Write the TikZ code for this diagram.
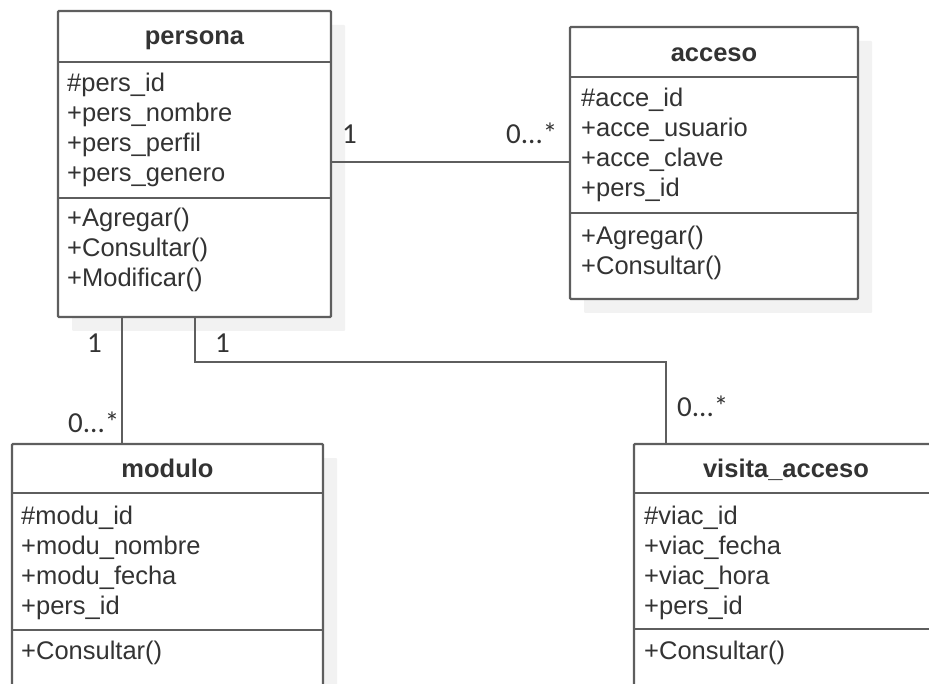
\documentclass[tikz,border=0pt]{standalone}
\usepackage{fontspec}
\setmainfont{Liberation Sans}
\newfontfamily\multfont{Carlito}
\usetikzlibrary{shadows}
\definecolor{txt}{HTML}{333333}
\definecolor{edge}{HTML}{5E5E5E}
\definecolor{shade}{HTML}{F2F2F2}
\tikzset{
  classbox/.style={draw=edge, line width=2.4pt, rounded corners=1pt, fill=white,
    inner sep=0pt, outer sep=0pt, anchor=north west,
    drop shadow={shadow xshift=14pt, shadow yshift=-14pt, fill=shade, opacity=1}},
  divider/.style={draw=edge, line width=2.4pt},
  assoc/.style={draw=edge, line width=2.4pt},
  head/.style={anchor=base, inner sep=0pt, text=txt, font=\fontsize{25.5}{30}\selectfont\bfseries},
  attr/.style={anchor=base west, inner sep=0pt, text=txt, font=\fontsize{25.5}{30}\selectfont},
  mult/.style={anchor=base west, inner sep=0pt, text=txt, font=\multfont\fontsize{29}{32}\selectfont},
}
\begin{document}
\begin{tikzpicture}[x=1pt, y=-1pt]
  \useasboundingbox (0,0) rectangle (929,684);
  \clip (0,0) rectangle (929,684);

  % class boxes
  \node[classbox, minimum width=273pt, minimum height=306pt] (persona) at (58,11) {};
  \node[classbox, minimum width=288pt, minimum height=272pt] (acceso) at (570,27) {};
  \node[classbox, minimum width=311pt, minimum height=280pt] (modulo) at (12,444) {};
  \node[classbox, minimum width=304pt, minimum height=280pt] (visita) at (634,444) {};

  % compartments
  \draw[divider] (persona.west |- 0,62) -- (persona.east |- 0,62);
  \draw[divider] (persona.west |- 0,198) -- (persona.east |- 0,198);
  \draw[divider] (acceso.west |- 0,77) -- (acceso.east |- 0,77);
  \draw[divider] (acceso.west |- 0,213) -- (acceso.east |- 0,213);
  \draw[divider] (modulo.west |- 0,493) -- (modulo.east |- 0,493);
  \draw[divider] (modulo.west |- 0,630) -- (modulo.east |- 0,630);
  \draw[divider] (visita.west |- 0,493) -- (visita.east |- 0,493);
  \draw[divider] (visita.west |- 0,629) -- (visita.east |- 0,629);

  % persona
  \node[head] (personaT) at (194.5,45) {persona};
  \node[attr] (p1) at (67,92)  {\#pers\_id};
  \node[attr] (p2) at (67,122) {+pers\_nombre};
  \node[attr] (p3) at (67,152) {+pers\_perfil};
  \node[attr] (p4) at (67,182) {+pers\_genero};
  \node[attr] (p5) at (67,227) {+Agregar()};
  \node[attr] (p6) at (67,257) {+Consultar()};
  \node[attr] (p7) at (67,287) {+Modificar()};

  % acceso
  \node[head] (accesoT) at (714,62) {acceso};
  \node[attr] (a1) at (581,107) {\#acce\_id};
  \node[attr] (a2) at (581,137) {+acce\_usuario};
  \node[attr] (a3) at (581,167) {+acce\_clave};
  \node[attr] (a4) at (581,197) {+pers\_id};
  \node[attr] (a5) at (581,245) {+Agregar()};
  \node[attr] (a6) at (581,275) {+Consultar()};

  % modulo
  \node[head] (moduloT) at (167.5,477) {modulo};
  \node[attr] (m1) at (21,524) {\#modu\_id};
  \node[attr] (m2) at (21,554) {+modu\_nombre};
  \node[attr] (m3) at (21,584) {+modu\_fecha};
  \node[attr] (m4) at (21,614) {+pers\_id};
  \node[attr] (m5) at (21,659) {+Consultar()};

  % visita_acceso
  \node[head] (visitaT) at (786,477) {visita\_acceso};
  \node[attr] (v1) at (644,524) {\#viac\_id};
  \node[attr] (v2) at (644,554) {+viac\_fecha};
  \node[attr] (v3) at (644,584) {+viac\_hora};
  \node[attr] (v4) at (644,614) {+pers\_id};
  \node[attr] (v5) at (644,659) {+Consultar()};

  % associations
  \coordinate (pa) at (331,162);
  \draw[assoc] (persona.east |- pa) -- (acceso.west |- pa);

  \coordinate (pm) at (122,0);
  \draw[assoc] (persona.south -| pm) -- (modulo.north -| pm);

  \coordinate (bendA) at (195,362);
  \coordinate (bendB) at (666,362);
  \draw[assoc, line join=miter] (persona.south -| bendA) -- (bendA) -- (bendB) -- (visita.north -| bendB);

  % multiplicities
  \node[mult] (mPA1) at (342,144) {1};
  \node[mult] (mPA2) at (506,144) {0...*};
  \node[mult] (mPM1) at (87,353)  {1};
  \node[mult] (mPM2) at (68,432)  {0...*};
  \node[mult] (mPV1) at (215,353) {1};
  \node[mult] (mPV2) at (677,417) {0...*};
\end{tikzpicture}
\end{document}
